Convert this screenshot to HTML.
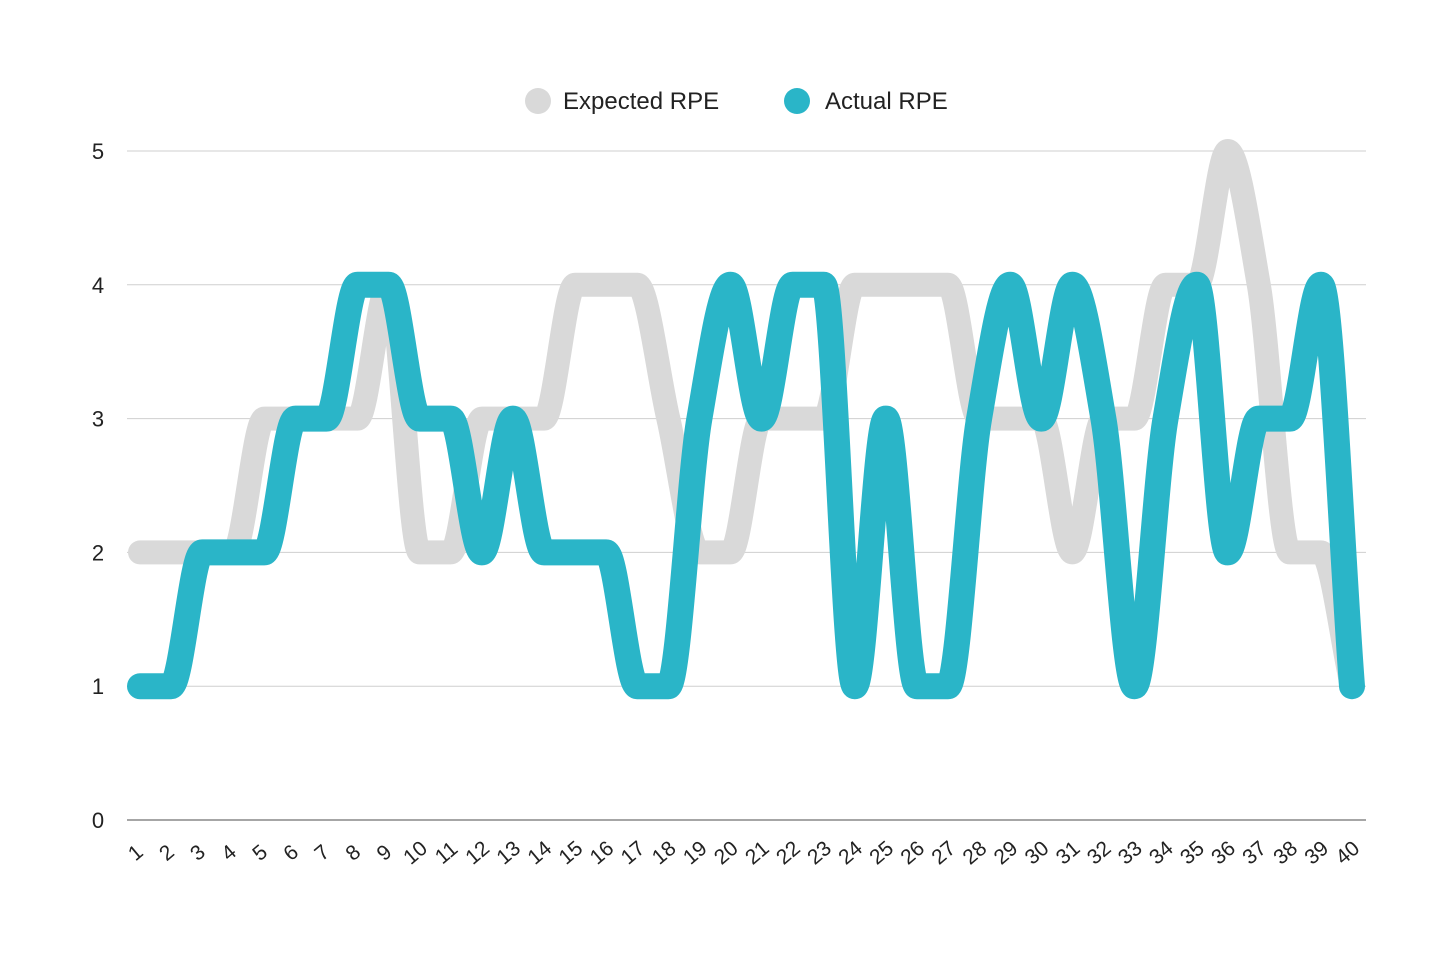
<!DOCTYPE html>
<html><head><meta charset="utf-8"><style>
html,body{margin:0;padding:0;background:#fff;}
svg{display:block;font-family:"Liberation Sans",sans-serif;}
</style></head><body>
<svg id="chart" width="1456" height="971" viewBox="0 0 1456 971">
<rect width="1456" height="971" fill="#fff"/>
<g id="legend">
<circle cx="538" cy="101" r="13" fill="#d9d9d9"/>
<text x="563" y="109" font-size="24" fill="#222">Expected RPE</text>
<circle cx="797" cy="101" r="13" fill="#2ab5c8"/>
<text x="825" y="109" font-size="24" fill="#222">Actual RPE</text>
</g>
<g id="grid"></g><g id="lines"></g><g id="xlabels"></g>
</svg>
<script>
const categories = Array.from({length:40},(_,i)=>String(i+1));
const expectedRPE = [2,2,2,2,3,3,3,3,4,2,2,3,3,3,4,4,4,3,2,2,3,3,3,4,4,4,4,3,3,3,2,3,3,4,4,5,4,2,2,1];
const actualRPE   = [1,1,2,2,2,3,3,4,4,3,3,2,3,2,2,2,1,1,3,4,3,4,4,1,3,1,1,3,4,3,4,3,1,3,4,2,3,3,4,1];
const yTicks = [0,1,2,3,4,5];

const NS="http://www.w3.org/2000/svg";
const x0=140,x1=1352,yBase=820,yTop=151;
const xs=i=>x0+i*(x1-x0)/(categories.length-1);
const ys=v=>yBase-v*(yBase-yTop)/5;
function mk(tag,attrs,parent){const e=document.createElementNS(NS,tag);for(const k in attrs)e.setAttribute(k,attrs[k]);parent.appendChild(e);return e;}
const grid=document.getElementById('grid');
yTicks.forEach(t=>{
  const l=mk('line',{x1:127,x2:1366,y1:ys(t),y2:ys(t),stroke:t===0?'#888':'#cfcfcf','stroke-width':t===0?1.5:1},grid);
  
  
  const tx=mk('text',{x:98,y:ys(t)+8,'font-size':22,'text-anchor':'middle',fill:'#222'},grid);
  tx.textContent=String(t);
  
  
});
function monoPath(vals){
  const n=vals.length,px=vals.map((v,i)=>xs(i)),py=vals.map(ys);
  const d=[],m=[];
  for(let i=0;i<n-1;i++)d.push((py[i+1]-py[i])/(px[i+1]-px[i]));
  for(let i=0;i<n;i++){
    if(i===0)m.push(d[0]);else if(i===n-1)m.push(d[n-2]);
    else m.push(d[i-1]*d[i]<=0?0:2/(1/d[i-1]+1/d[i]));
  }
  let s='M'+px[0]+','+py[0];
  for(let i=0;i<n-1;i++){
    const h=(px[i+1]-px[i])/3;
    s+=' C'+(px[i]+h)+','+(py[i]+m[i]*h)+' '+(px[i+1]-h)+','+(py[i+1]-m[i+1]*h)+' '+px[i+1]+','+py[i+1];
  }
  return s;
}
const lines=document.getElementById('lines');
const pe=mk('path',{d:monoPath(expectedRPE),fill:'none',stroke:'#d9d9d9','stroke-width':24,'stroke-linecap':'round','stroke-linejoin':'round'},lines);


const pa=mk('path',{d:monoPath(actualRPE),fill:'none',stroke:'#2ab5c8','stroke-width':26,'stroke-linecap':'round','stroke-linejoin':'round'},lines);


const xl=document.getElementById('xlabels');
categories.forEach((c,i)=>{
  const t=mk('text',{x:0,y:0,'font-size':21,'text-anchor':'middle',fill:'#222',transform:'translate('+xs(i)+',858) rotate(-40)'},xl);
  t.textContent=c;
  
  
});
</script>
</body></html>
